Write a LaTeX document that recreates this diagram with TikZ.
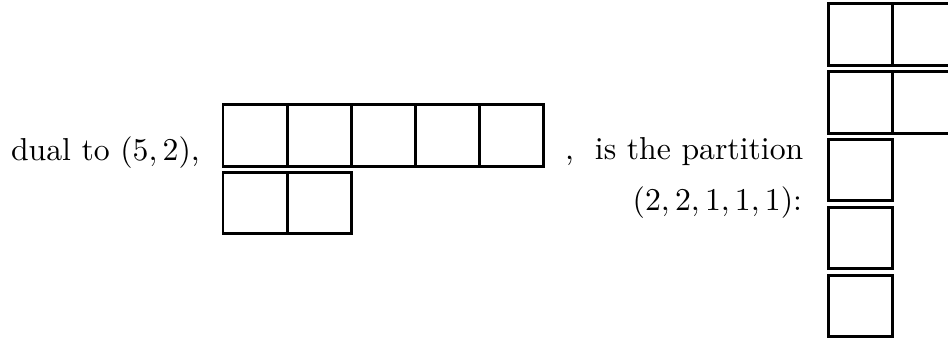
\documentclass[tikz,border=0pt]{standalone}
\begin{document}
\begin{tikzpicture}[x=0.345pt,y=-0.345pt,
  cell/.style={draw=black,line width=1.0pt,minimum width=22.11pt,minimum height=21.2pt,inner sep=0pt,outer sep=0pt},
  txt/.style={inner sep=0pt,outer sep=0pt,font=\fontsize{10.95}{13}\selectfont}]
\useasboundingbox (0,0) rectangle (948,343);
% text
\node[txt,anchor=base west] (t1) at (11,161) {dual to $(5,2)$,};
\node[txt,anchor=base west] (t2) at (565,160) {,\ \ is the partition};
\node[txt,anchor=base east] (t3) at (802,211) {$(2,2,1,1,1)$:};
% left diagram (5,2)
\foreach \k in {1,...,5}
  \node[cell] (a\k) at ({255.05+64.1*(\k-1)},135.5) {};
\foreach \k in {1,2}
  \node[cell] (b\k) at ({255.05+64.1*(\k-1)},203.2) {};
% right diagram (2,2,1,1,1)
\foreach \r in {1,...,5}
  \node[cell] (c\r1) at (860.45,{34.6+67.8*(\r-1)}) {};
\foreach \r in {1,2}
  \node[cell] (c\r2) at (924.55,{34.6+67.8*(\r-1)}) {};
\end{tikzpicture}
\end{document}
